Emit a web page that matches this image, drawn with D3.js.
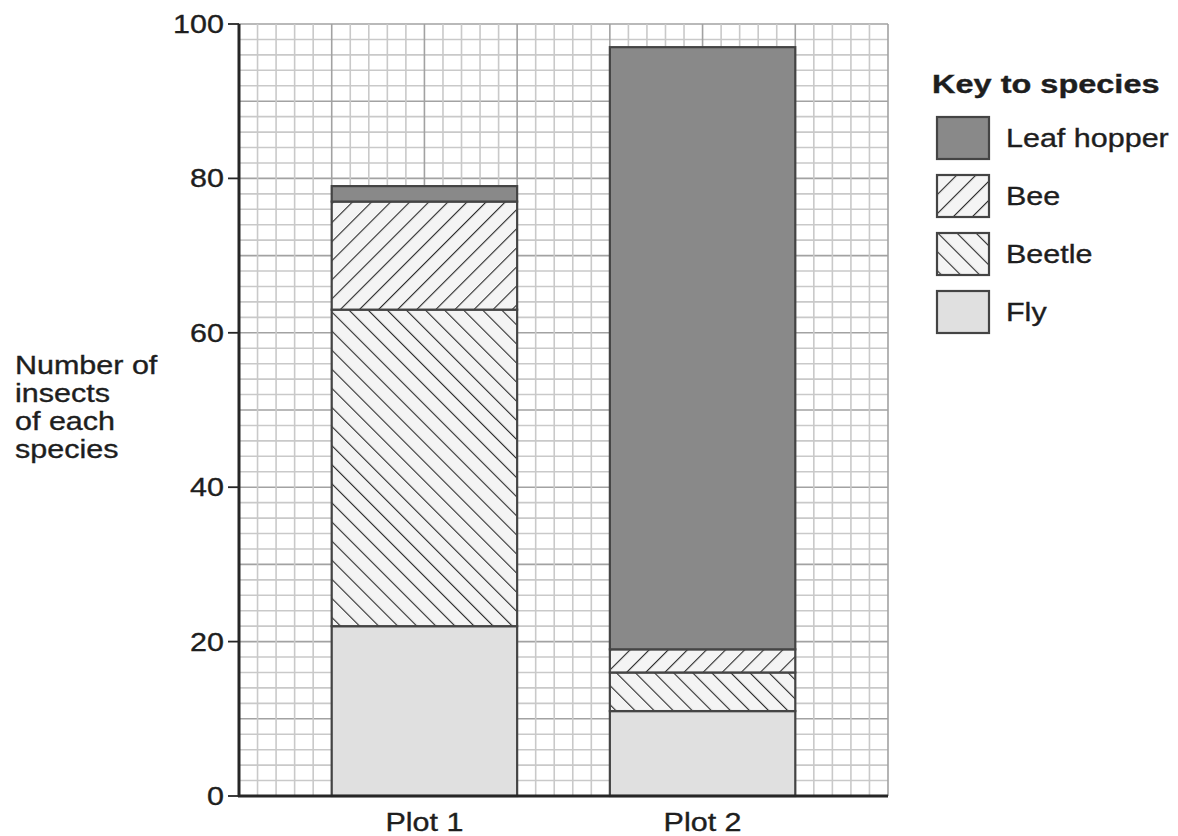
<!DOCTYPE html>
<html>
<head>
<meta charset="utf-8">
<script src="https://cdn.jsdelivr.net/npm/d3@7"></script>
<style>
  body { margin: 0; background: #fff; }
  svg text { font-family: "Liberation Sans", Arial, sans-serif; fill: #1e1e1e; stroke: #1e1e1e; stroke-width: 0.35px; }
</style>
</head>
<body>
<div id="chart"></div>
<script>
// data
const plots = ["Plot 1", "Plot 2"];
const species = ["Fly", "Beetle", "Bee", "Leaf hopper"];   // bottom -> top
const fly = [22, 11];
const beetle = [41, 5];
const bee = [14, 3];
const leafHopper = [2, 78];
const yTicks = [0, 20, 40, 60, 80, 100];
const yTitle = ["Number of", "insects", "of each", "species"];
const legendTitle = "Key to species";

// the original is a little stretched sideways, so text gets a x-scale
const STRETCH = 1.22;

const W = 1178, H = 836;
const svg = d3.select("#chart").append("svg")
    .attr("width", W)
    .attr("height", H);

// patterns for the hatched species
const defs = svg.append("defs");
function hatch(id, angle) {
    let s = 13.5;
    let p = defs.append("pattern")
        .attr("id", id)
        .attr("patternUnits", "userSpaceOnUse")
        .attr("width", s)
        .attr("height", s)
        .attr("patternTransform", `rotate(${angle})`);
    p.append("rect").attr("width", s).attr("height", s).attr("fill", "#f4f4f4");
    p.append("line")
        .attr("x1", 0).attr("y1", 0).attr("x2", 0).attr("y2", s)
        .attr("stroke", "#2a2a2a").attr("stroke-width", 2.2);
}
hatch("hatch-bee", 45);
hatch("hatch-beetle", -45);

const fills = {
    "Fly": "#e0e0e0",
    "Beetle": "url(#hatch-beetle)",
    "Bee": "url(#hatch-bee)",
    "Leaf hopper": "#898989"
};

// scales: the graph paper is 35 small squares wide, one square = 2 insects high
const y = d3.scaleLinear().domain([0, 100]).range([796, 24]);
const gridX = d3.scaleLinear().domain([0, 35]).range([239, 888]);
const x = d3.scaleBand()
    .domain(plots)
    .range([gridX(5), gridX(30)])
    .paddingInner(1 / 3)
    .paddingOuter(0);

// graph paper
const grid = svg.append("g").attr("class", "grid");
d3.range(0, 101, 2).forEach(v => {
    grid.append("line")
        .attr("x1", gridX(0)).attr("x2", gridX(35))
        .attr("y1", y(v)).attr("y2", y(v))
        .attr("stroke", v % 10 === 0 ? "#a2a2a2" : "#c9c9c9")
        .attr("stroke-width", 1.6);
});
d3.range(0, 36).forEach(c => {
    grid.append("line")
        .attr("x1", gridX(c)).attr("x2", gridX(c))
        .attr("y1", y(0)).attr("y2", y(100))
        .attr("stroke", c % 5 === 0 ? "#a2a2a2" : "#c9c9c9")
        .attr("stroke-width", 1.6);
});

// stacked bars
const table = plots.map((p, i) => ({
    plot: p,
    "Fly": fly[i],
    "Beetle": beetle[i],
    "Bee": bee[i],
    "Leaf hopper": leafHopper[i]
}));
const stacked = d3.stack().keys(species)(table);

svg.append("g").attr("class", "bars")
    .selectAll("g")
    .data(stacked)
    .join("g")
    .attr("fill", d => fills[d.key])
    .selectAll("rect")
    .data(d => d)
    .join("rect")
    .attr("x", d => x(d.data.plot))
    .attr("width", x.bandwidth())
    .attr("y", d => y(d[1]))
    .attr("height", d => y(d[0]) - y(d[1]))
    .attr("stroke", "#444")
    .attr("stroke-width", 2.2);

// axes
const yAxis = svg.append("g").attr("class", "y-axis");
yAxis.append("line")
    .attr("x1", gridX(0)).attr("x2", gridX(0))
    .attr("y1", y(0) + 1).attr("y2", y(100))
    .attr("stroke", "#262626").attr("stroke-width", 3);
yAxis.selectAll(".tick")
    .data(yTicks)
    .join("line")
    .attr("class", "tick")
    .attr("x1", gridX(0) - 11).attr("x2", gridX(0))
    .attr("y1", d => y(d)).attr("y2", d => y(d))
    .attr("stroke", "#262626").attr("stroke-width", 1.8);
yAxis.selectAll(".lbl")
    .data(yTicks)
    .join("text")
    .attr("class", "lbl")
    .attr("transform", d => `translate(224,${y(d)}) scale(${STRETCH},1)`)
    .attr("dy", "0.36em")
    .attr("text-anchor", "end")
    .attr("font-size", 25)
    .text(d => d);

svg.append("line")
    .attr("x1", gridX(0) - 1).attr("x2", gridX(35))
    .attr("y1", y(0)).attr("y2", y(0))
    .attr("stroke", "#262626").attr("stroke-width", 3);

svg.append("g").attr("class", "x-labels")
    .selectAll("text")
    .data(plots)
    .join("text")
    .attr("transform", d => `translate(${x(d) + x.bandwidth() / 2},831) scale(${STRETCH},1)`)
    .attr("text-anchor", "middle")
    .attr("font-size", 25)
    .text(d => d);

// y title, four lines
svg.append("g").attr("class", "y-title")
    .selectAll("text")
    .data(yTitle)
    .join("text")
    .attr("transform", (d, i) => `translate(15,${374 + i * 28}) scale(${STRETCH},1)`)
    .attr("font-size", 25)
    .text(d => d);

// legend
const legend = svg.append("g").attr("class", "legend");
legend.append("text")
    .attr("transform", `translate(932,93) scale(1.3,1)`)
    .attr("font-size", 25)
    .attr("font-weight", "bold")
    .text(legendTitle);

const keyOrder = species.slice().reverse();
const item = legend.selectAll(".item")
    .data(keyOrder)
    .join("g")
    .attr("class", "item")
    .attr("transform", (d, i) => `translate(937,${117 + i * 58})`);
item.append("rect")
    .attr("width", 52)
    .attr("height", 42)
    .attr("fill", d => fills[d])
    .attr("stroke", "#444")
    .attr("stroke-width", 2.2);
item.append("text")
    .attr("transform", `translate(69,30) scale(${STRETCH},1)`)
    .attr("font-size", 25)
    .text(d => d);
</script>
</body>
</html>
